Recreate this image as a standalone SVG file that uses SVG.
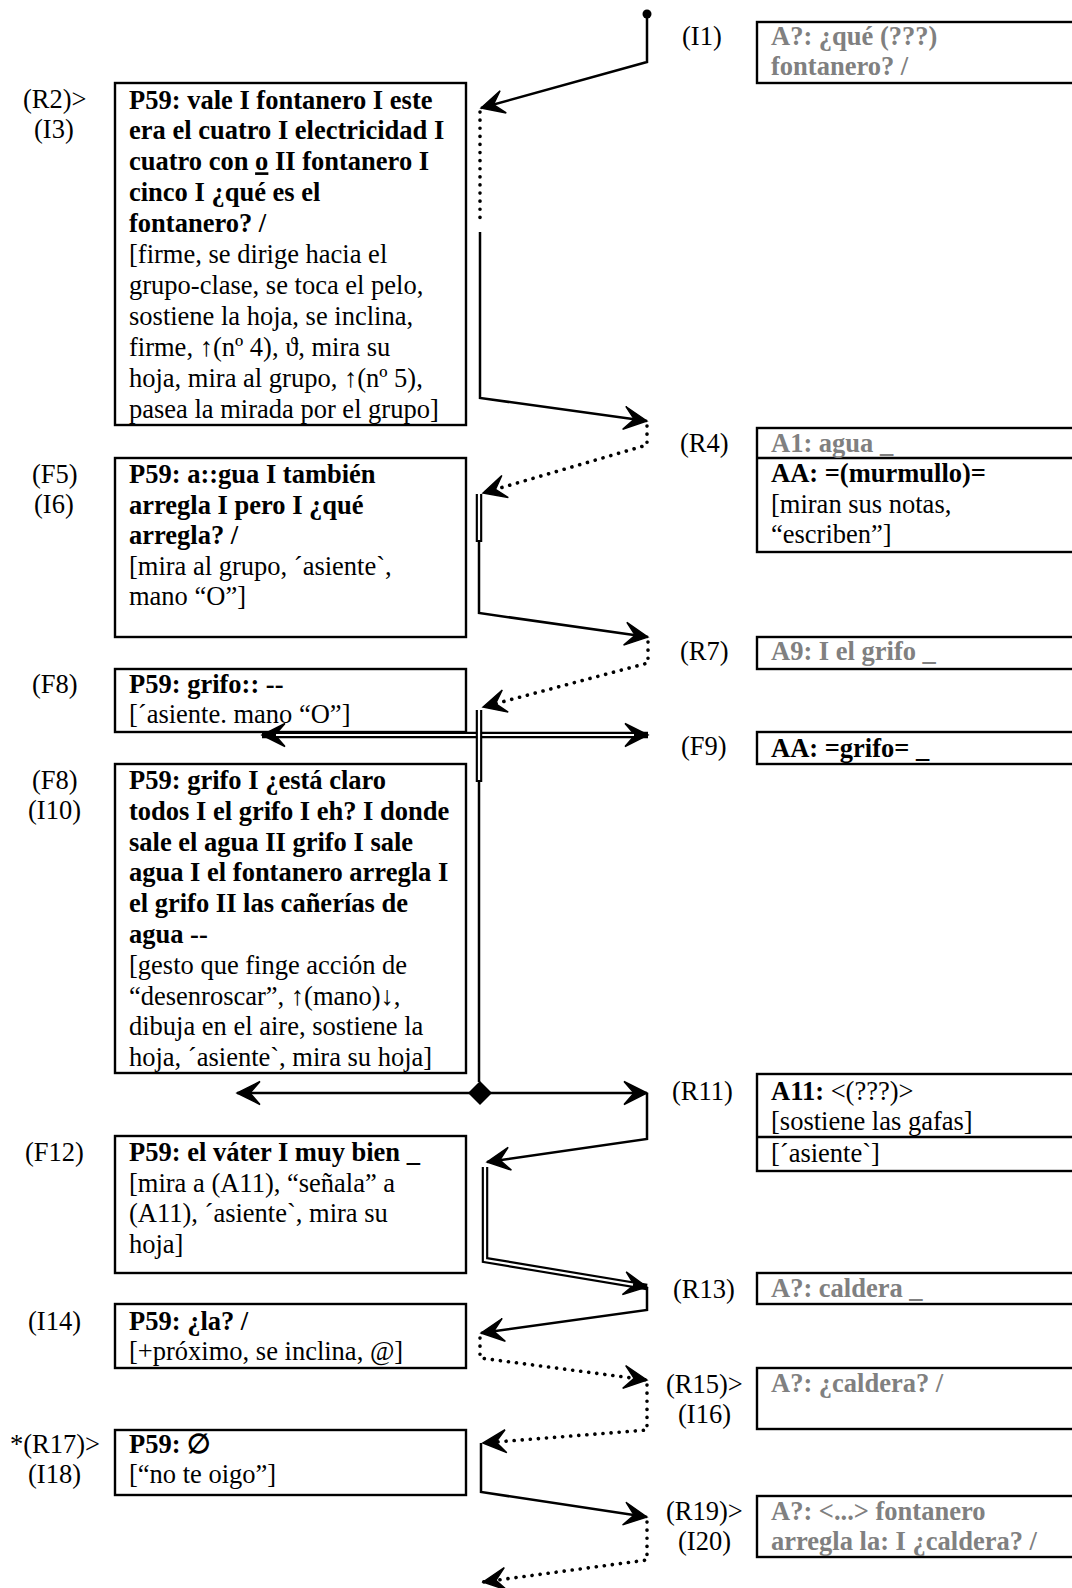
<svg xmlns="http://www.w3.org/2000/svg" width="1072" height="1588" viewBox="0 0 1072 1588">
  <style>
    text { font-family: "Liberation Serif", "Times New Roman", "DejaVu Serif", serif; font-size: 26.5px; fill: #000; }
    .b { font-weight: bold; }
    .g { fill: #808080; font-weight: bold; }
    .box { fill: #fff; stroke: #000; stroke-width: 2.4; }
    .sep { stroke: #000; stroke-width: 2.4; }
    .solid { fill: none; stroke: #000; stroke-width: 2.5; }
    .dot { fill: none; stroke: #000; stroke-width: 3.6; stroke-linecap: round; stroke-dasharray: 0.1 8; }
    .dblo { fill: none; stroke: #000; stroke-width: 6.5; }
    .dbli { fill: none; stroke: #fff; stroke-width: 2.2; }
  </style>
  <defs>
    <!-- barbed arrowhead shared by all connectors -->
    <marker id="ah" viewBox="-26 -14 28 28" refX="0" refY="0" markerWidth="28" markerHeight="28" markerUnits="userSpaceOnUse" orient="auto-start-reverse">
      <path d="M0,0 L-23,-11.5 L-13,0 L-23,11.5 Z" fill="#000" stroke="#000" stroke-width="1.4" stroke-linejoin="miter"/>
    </marker>
  </defs>
  <rect width="1072" height="1588" fill="#fff"/>

  <!-- turn labels, left column -->
  <g id="labels-left">
    <text x="23" y="108">(R2)&gt;</text>
    <text x="34" y="138">(I3)</text>
    <text x="32" y="483">(F5)</text>
    <text x="34" y="513">(I6)</text>
    <text x="32" y="693">(F8)</text>
    <text x="32" y="789">(F8)</text>
    <text x="28" y="819">(I10)</text>
    <text x="25" y="1161">(F12)</text>
    <text x="28" y="1330">(I14)</text>
    <text x="10" y="1453">*(R17)&gt;</text>
    <text x="28" y="1483">(I18)</text>
  </g>

  <!-- turn labels, right column -->
  <g id="labels-right">
    <text x="682" y="45">(I1)</text>
    <text x="680" y="452">(R4)</text>
    <text x="680" y="660">(R7)</text>
    <text x="681" y="755">(F9)</text>
    <text x="672" y="1100">(R11)</text>
    <text x="673" y="1298">(R13)</text>
    <text x="666" y="1393">(R15)&gt;</text>
    <text x="678" y="1423">(I16)</text>
    <text x="666" y="1520">(R19)&gt;</text>
    <text x="678" y="1550">(I20)</text>
  </g>

  <!-- teacher turns -->
  <g id="node-R2">
    <rect class="box" x="115" y="83" width="351" height="342"/>
    <text class="b" x="129" y="108.5">P59: vale I fontanero I este</text>
    <text class="b" x="129" y="139.4">era el cuatro I electricidad I</text>
    <text class="b" x="129" y="170.3">cuatro con <tspan text-decoration="underline">o</tspan> II fontanero I</text>
    <text class="b" x="129" y="201.2">cinco I ¿qué es el</text>
    <text class="b" x="129" y="232.1">fontanero? /</text>
    <text x="129" y="263">[firme, se dirige hacia el</text>
    <text x="129" y="293.9">grupo-clase, se toca el pelo,</text>
    <text x="129" y="324.8">sostiene la hoja, se inclina,</text>
    <text x="129" y="355.7">firme, ↑(nº 4), ϑ, mira su</text>
    <text x="129" y="386.6">hoja, mira al grupo, ↑(nº 5),</text>
    <text x="129" y="417.5">pasea la mirada por el grupo]</text>
  </g>

  <g id="node-F5">
    <rect class="box" x="115" y="458" width="351" height="179"/>
    <text class="b" x="129" y="483">P59: a::gua I también</text>
    <text class="b" x="129" y="513.5">arregla I pero I ¿qué</text>
    <text class="b" x="129" y="544">arregla? /</text>
    <text x="129" y="574.5">[mira al grupo, ´asiente`,</text>
    <text x="129" y="605">mano “O”]</text>
  </g>

  <g id="node-F8a">
    <rect class="box" x="115" y="669" width="351" height="63"/>
    <text class="b" x="129" y="693">P59: grifo:: --</text>
    <text x="129" y="723">[´asiente. mano “O”]</text>
  </g>

  <g id="node-I10">
    <rect class="box" x="115" y="764" width="351" height="309"/>
    <text class="b" x="129" y="789">P59: grifo I ¿está claro</text>
    <text class="b" x="129" y="819.8">todos I el grifo I eh? I donde</text>
    <text class="b" x="129" y="850.6">sale el agua II grifo I sale</text>
    <text class="b" x="129" y="881.4">agua I el fontanero arregla I</text>
    <text class="b" x="129" y="912.2">el grifo II las cañerías de</text>
    <text class="b" x="129" y="943">agua --</text>
    <text x="129" y="973.8">[gesto que finge acción de</text>
    <text x="129" y="1004.6">“desenroscar”, ↑(mano)↓,</text>
    <text x="129" y="1035.4">dibuja en el aire, sostiene la</text>
    <text x="129" y="1066.2">hoja, ´asiente`, mira su hoja]</text>
  </g>

  <g id="node-F12">
    <rect class="box" x="115" y="1136" width="351" height="137"/>
    <text class="b" x="129" y="1161">P59: el váter I muy bien _</text>
    <text x="129" y="1191.5">[mira a (A11), “señala” a</text>
    <text x="129" y="1222">(A11), ´asiente`, mira su</text>
    <text x="129" y="1252.5">hoja]</text>
  </g>

  <g id="node-I14">
    <rect class="box" x="115" y="1304" width="351" height="64"/>
    <text class="b" x="129" y="1330">P59: ¿la? /</text>
    <text x="129" y="1360">[+próximo, se inclina, @]</text>
  </g>

  <g id="node-R17">
    <rect class="box" x="115" y="1430" width="351" height="65"/>
    <text class="b" x="129" y="1453">P59: ∅</text>
    <text x="129" y="1483">[“no te oigo”]</text>
  </g>

  <!-- student turns -->
  <g id="node-I1">
    <rect class="box" x="757" y="22" width="330" height="61"/>
    <text class="g" x="771" y="45">A?: ¿qué (???)</text>
    <text class="g" x="771" y="75">fontanero? /</text>
  </g>

  <g id="node-R4">
    <rect class="box" x="757" y="428" width="330" height="124"/>
    <line class="sep" x1="757" y1="458" x2="1080" y2="458"/>
    <text class="g" x="771" y="452">A1: agua _</text>
    <text class="b" x="771" y="482">AA: =(murmullo)=</text>
    <text x="771" y="512.5">[miran sus notas,</text>
    <text x="771" y="543">“escriben”]</text>
  </g>

  <g id="node-R7">
    <rect class="box" x="757" y="637" width="330" height="32"/>
    <text class="g" x="771" y="660">A9: I el grifo _</text>
  </g>

  <g id="node-F9">
    <rect class="box" x="757" y="732" width="330" height="32"/>
    <text class="b" x="771" y="757">AA: =grifo= _</text>
  </g>

  <g id="node-R11">
    <rect class="box" x="757" y="1074" width="330" height="97"/>
    <line class="sep" x1="757" y1="1137" x2="1080" y2="1137"/>
    <text x="771" y="1100"><tspan class="b">A11:</tspan> &lt;(???)&gt;</text>
    <text x="771" y="1130">[sostiene las gafas]</text>
    <text x="771" y="1162">[´asiente`]</text>
  </g>

  <g id="node-R13">
    <rect class="box" x="757" y="1273" width="330" height="31"/>
    <text class="g" x="771" y="1297">A?: caldera _</text>
  </g>

  <g id="node-R15">
    <rect class="box" x="757" y="1368" width="330" height="61"/>
    <text class="g" x="771" y="1392">A?: ¿caldera? /</text>
  </g>

  <g id="node-R19">
    <rect class="box" x="757" y="1496" width="330" height="61"/>
    <text class="g" x="771" y="1520">A?: &lt;...&gt; fontanero</text>
    <text class="g" x="771" y="1550">arregla la: I ¿caldera? /</text>
  </g>

  <!-- connectors -->
  <g id="connectors">
    <circle cx="647" cy="14" r="4.5" fill="#000"/>
    <path class="solid" d="M647,14 V62 L481,108" marker-end="url(#ah)"/>
    <path class="dot" d="M480,112 V223"/>
    <path class="solid" d="M480,232 V398 L647,421" marker-end="url(#ah)"/>
    <path class="dot" d="M647,426 V445 L483,493" marker-end="url(#ah)"/>
    <path class="dblo" d="M479,494 V542"/>
    <path class="dbli" d="M479,494 V540"/>
    <path class="solid" d="M479,542 V613 L648,637" marker-end="url(#ah)"/>
    <path class="dot" d="M648,642 V663 L483,707" marker-end="url(#ah)"/>

    <!-- double arrow between F8 and F9 -->
    <path class="dblo" d="M262,735 H648" marker-start="url(#ah)" marker-end="url(#ah)"/>
    <path class="dbli" d="M276,735 H634"/>
    <path class="dblo" d="M479,710 V782"/>
    <path class="dbli" d="M479,710 V780"/>
    <path class="solid" d="M479,782 V1082"/>

    <!-- split after I10 -->
    <polygon points="480,1081 492,1093 480,1105 468,1093" fill="#000"/>
    <path class="solid" d="M470,1093 H237" marker-end="url(#ah)"/>
    <path class="solid" d="M490,1093 H647" marker-end="url(#ah)"/>

    <path class="solid" d="M647,1093 V1139 L487,1162" marker-end="url(#ah)"/>
    <path class="dblo" d="M485,1167 V1260 L647,1287" marker-end="url(#ah)"/>
    <path class="dbli" d="M485,1167 V1260 L633,1284.7"/>
    <path class="solid" d="M647,1287 V1310 L481,1333" marker-end="url(#ah)"/>
    <path class="dot" d="M480,1338 V1358 L647,1380" marker-end="url(#ah)"/>
    <path class="dot" d="M647,1385 V1430 L483,1443" marker-end="url(#ah)"/>
    <path class="solid" d="M481,1443 V1492 L647,1517" marker-end="url(#ah)"/>
    <path class="dot" d="M647,1522 V1560 L483,1582" marker-end="url(#ah)"/>
  </g>
</svg>
